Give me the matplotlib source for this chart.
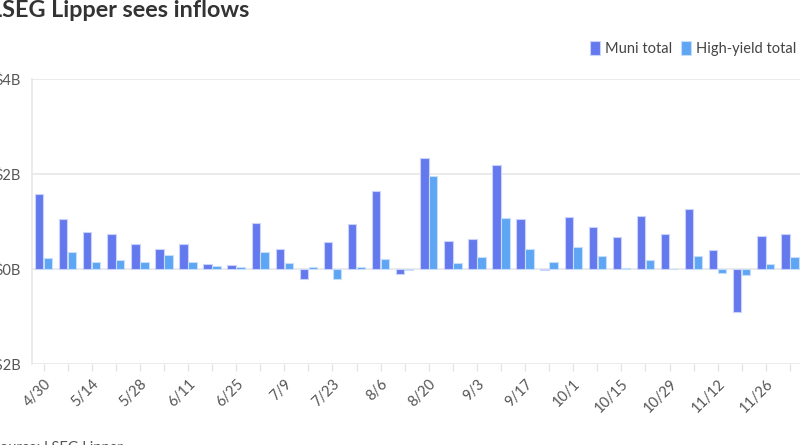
import matplotlib
matplotlib.use("Agg")
import matplotlib.pyplot as plt
import numpy as np

weeks = ["4/30", "5/7", "5/14", "5/21", "5/28", "6/4", "6/11", "6/18", "6/25", "7/2",
         "7/9", "7/16", "7/23", "7/30", "8/6", "8/13", "8/20", "8/27", "9/3", "9/10",
         "9/17", "9/24", "10/1", "10/8", "10/15", "10/22", "10/29", "11/5", "11/12",
         "11/19", "11/26", "12/3"]
muni_total = [1.58, 1.06, 0.77, 0.74, 0.53, 0.43, 0.53, 0.11, 0.08, 0.96,
              0.43, -0.22, 0.57, 0.94, 1.65, -0.10, 2.34, 0.59, 0.63, 2.18,
              1.05, -0.02, 1.09, 0.88, 0.68, 1.12, 0.74, 1.26, 0.40, -0.90,
              0.69, 0.74]
high_yield_total = [0.24, 0.35, 0.14, 0.20, 0.15, 0.29, 0.14, 0.055, 0.045, 0.35,
                    0.13, 0.04, -0.20, 0.04, 0.22, -0.02, 1.96, 0.13, 0.245, 1.07,
                    0.43, 0.14, 0.455, 0.27, 0.025, 0.18, 0.01, 0.27, -0.08, -0.135,
                    0.095, 0.25]
y_ticks = [-2, 0, 2, 4]
y_labels = ["-$2B", "$0B", "$2B", "$4B"]

plt.rcParams['font.family'] = ['Lato', 'DejaVu Sans']

fig = plt.figure(figsize=(8, 4.45), dpi=100)
ax = fig.add_axes([0.04, 0.182, 0.96, 0.6405])

x = np.arange(len(weeks))
w = 0.35
c_muni = "#6479ee"
c_hy = "#5ea5f4"
ax.bar(x - w / 2 - 0.01, muni_total, width=w, color=c_muni, edgecolor="#c9d3fb",
       linewidth=0.8, zorder=3, label="Muni total")
ax.bar(x + w / 2 + 0.01, high_yield_total, width=w, color=c_hy, edgecolor="#c6def9",
       linewidth=0.8, zorder=3, label="High-yield total")

ax.set_xlim(-0.48, len(weeks) - 1 + 0.42)
ax.set_ylim(-2, 4)
ax.set_yticks(y_ticks)
ax.set_yticklabels(y_labels, fontsize=10.5, color="#555555")
ax.yaxis.grid(True, color="#e8e8e8", linewidth=1.2, zorder=0)
ax.tick_params(axis="y", length=0, pad=8)

ax.set_xticks(x)
ax.set_xticklabels([lab if i % 2 == 0 else "" for i, lab in enumerate(weeks)],
                   rotation=45, ha="right", rotation_mode="anchor",
                   fontsize=10.5, color="#555555")
ax.tick_params(axis="x", length=5, color="#e3e3e3", width=1, pad=4)

for s in ["top", "right", "bottom"]:
    ax.spines[s].set_visible(False)
ax.spines["left"].set_color("#e8e8e8")
ax.spines["left"].set_linewidth(1.2)

fig.text(-0.013, 0.962, "LSEG Lipper sees inflows", fontsize=16.8, fontweight="bold",
         color="#333333", va="baseline", ha="left")
fig.text(-0.010, -0.016, "Source: LSEG Lipper", fontsize=10.5, color="#555555",
         va="baseline", ha="left")

leg = ax.legend(loc="lower right", bbox_to_anchor=(1.003, 1.06), ncol=2, frameon=False,
                fontsize=10.5, handlelength=0.7, handleheight=1.1, handletextpad=0.35,
                columnspacing=0.6, borderaxespad=0, labelcolor="#444444")

fig.savefig("out.png", dpi=100)
